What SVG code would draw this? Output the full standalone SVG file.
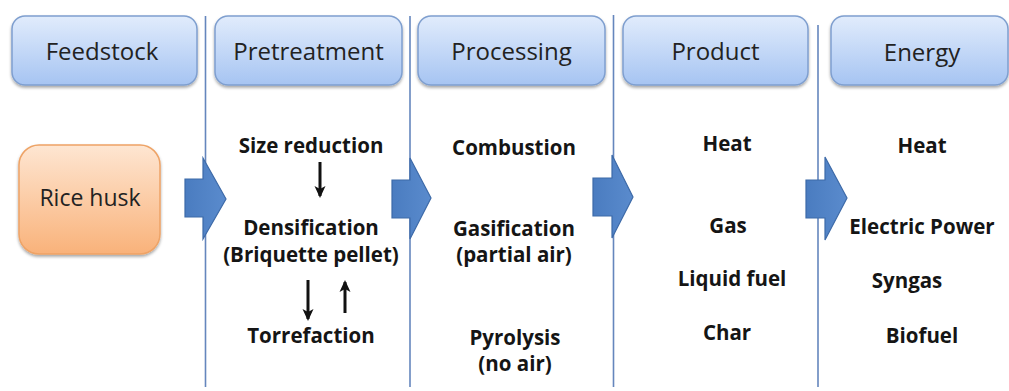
<svg xmlns="http://www.w3.org/2000/svg" width="1009" height="391" viewBox="0 0 1009 391">
<defs>
<linearGradient id="gBlue" x1="0" y1="0" x2="0" y2="1">
<stop offset="0" stop-color="#e1ecfc"/>
<stop offset="1" stop-color="#a6c4f2"/>
</linearGradient>
<linearGradient id="gOrange" x1="0" y1="0" x2="0" y2="1">
<stop offset="0" stop-color="#fee6d2"/>
<stop offset="1" stop-color="#f9b27a"/>
</linearGradient>
<linearGradient id="gArrow" x1="0" y1="0" x2="1" y2="0">
<stop offset="0" stop-color="#4a7cc0"/>
<stop offset="1" stop-color="#5a8bcd"/>
</linearGradient>
<filter id="sh" x="-10%" y="-10%" width="125%" height="135%">
<feDropShadow dx="0" dy="2" stdDeviation="1.6" flood-color="#000" flood-opacity="0.35"/>
</filter>
<marker id="ah" viewBox="0 0 12 12" refX="10" refY="6" markerWidth="12" markerHeight="12" markerUnits="userSpaceOnUse" orient="auto">
<path d="M0,0.5 L12,6 L0,11.5 L3,6 Z" fill="#111"/>
</marker>
</defs>
<style>
.hdr{fill:url(#gBlue);stroke:#7f9fcf;stroke-width:1.5;filter:url(#sh)}
.htxt{font-family:"Open Sans",Lato,sans-serif;font-size:24px;fill:#222;text-anchor:middle}
.btxt{font-family:"Open Sans",Lato,sans-serif;font-size:20.5px;font-weight:bold;fill:#151515;text-anchor:middle}
.div{stroke:#6586bd;stroke-width:1.6}
.blk{fill:url(#gArrow);stroke:#3d6aa8;stroke-width:1.2}
.sa{stroke:#111;stroke-width:3;fill:none}
</style>
<rect width="1009" height="391" fill="#fff"/>

<g id="connectors">
<line class="div" x1="205.5" y1="16" x2="205.5" y2="387"/>
<line class="div" x1="410" y1="16" x2="410" y2="387"/>
<line class="div" x1="613.5" y1="15" x2="613.5" y2="387"/>
<line class="div" x1="818" y1="25" x2="818" y2="387"/>
<path class="blk" d="M185,179 L203,179 L203,158 L226,199 L203,239 L203,217 L185,217 Z"/>
<path class="blk" d="M392,180 L410,180 L410,158 L431,198 L410,239 L410,218 L392,218 Z"/>
<path class="blk" d="M593,178 L612,178 L612,155 L633,197 L612,238 L612,216 L593,216 Z"/>
<path class="blk" d="M806,180 L825,180 L825,157 L847,198 L825,240 L825,218 L806,218 Z"/>
<line class="sa" x1="320" y1="162" x2="320" y2="196" marker-end="url(#ah)"/>
<line class="sa" x1="308" y1="280" x2="308" y2="319" marker-end="url(#ah)"/>
<line class="sa" x1="345" y1="313" x2="345" y2="282" marker-end="url(#ah)"/>
</g>

<g id="h-feedstock"><rect class="hdr" x="12" y="16" width="185" height="69" rx="13"/><text class="htxt" x="102" y="60">Feedstock</text></g>
<g id="h-pretreatment"><rect class="hdr" x="215" y="16" width="187" height="69" rx="13"/><text class="htxt" x="308.5" y="60">Pretreatment</text></g>
<g id="h-processing"><rect class="hdr" x="418" y="16" width="187" height="69" rx="13"/><text class="htxt" x="511.5" y="60">Processing</text></g>
<g id="h-product"><rect class="hdr" x="623" y="16" width="185" height="69" rx="13"/><text class="htxt" x="715.5" y="60">Product</text></g>
<g id="h-energy"><rect class="hdr" x="831" y="16" width="177" height="69" rx="13"/><text class="htxt" x="922" y="61">Energy</text></g>

<g id="rice-husk">
<rect x="19" y="145" width="141" height="109" rx="20" fill="url(#gOrange)" stroke="#eea366" stroke-width="1.5" filter="url(#sh)"/>
<text class="htxt" x="90" y="206" style="font-size:23px">Rice husk</text>
</g>

<g id="pretreatment">
<text class="btxt" x="311" y="153">Size reduction</text>
<text class="btxt" x="311" y="235">Densification</text>
<text class="btxt" x="311" y="262">(Briquette pellet)</text>
<text class="btxt" x="311" y="343">Torrefaction</text>
</g>

<g id="processing">
<text class="btxt" x="514" y="155">Combustion</text>
<text class="btxt" x="514" y="236">Gasification</text>
<text class="btxt" x="514" y="262">(partial air)</text>
<text class="btxt" x="515" y="345">Pyrolysis</text>
<text class="btxt" x="515" y="371">(no air)</text>
</g>

<g id="product">
<text class="btxt" x="727" y="151">Heat</text>
<text class="btxt" x="728" y="233">Gas</text>
<text class="btxt" x="732" y="286">Liquid fuel</text>
<text class="btxt" x="727" y="340">Char</text>
</g>

<g id="energy">
<text class="btxt" x="922" y="153">Heat</text>
<text class="btxt" x="922" y="234">Electric Power</text>
<text class="btxt" x="907" y="288">Syngas</text>
<text class="btxt" x="922" y="343">Biofuel</text>
</g>
</svg>
